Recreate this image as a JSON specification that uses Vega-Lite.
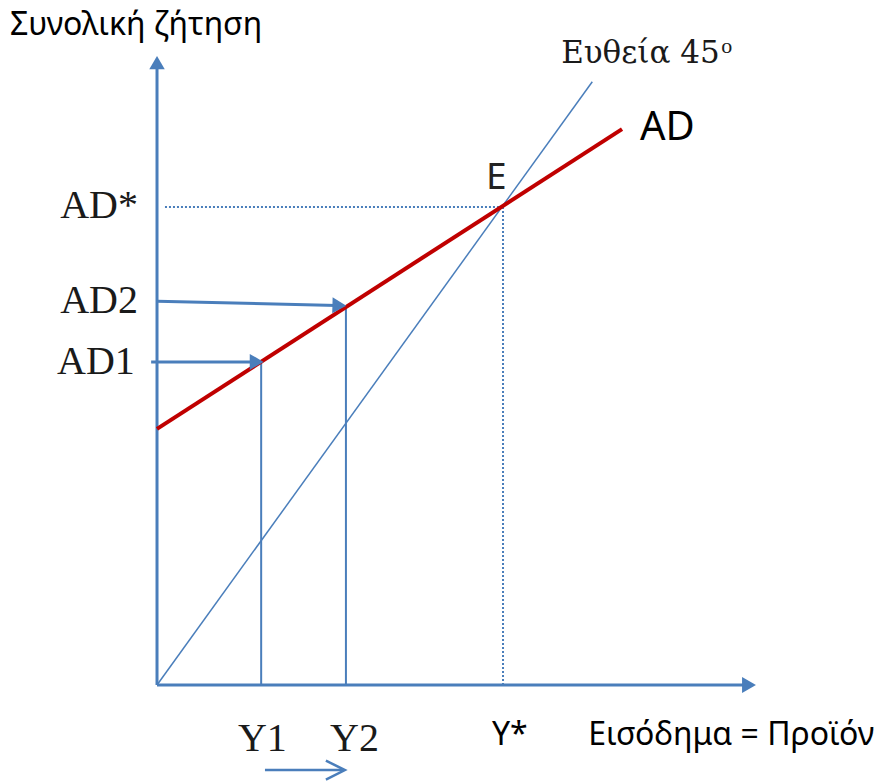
{
  "$schema": "https://vega.github.io/schema/vega-lite/v6.json",
  "width": 886,
  "height": 782,
  "autosize": "none",
  "padding": 0,
  "background": "white",
  "config": {"view": {"stroke": null}},
  "datasets": {
    "segs": [
      {"name": "yaxis", "x": 0, "y": 0, "x2": 0, "y2": 129.1},
      {"name": "xaxis", "x": 0, "y": 0, "x2": 169.4, "y2": 0},
      {"name": "g1", "x": 30.1, "y": 0, "x2": 30.1, "y2": 67.6},
      {"name": "g2", "x": 54.6, "y": 0, "x2": 54.6, "y2": 79.4},
      {"name": "a1", "x": -1.7, "y": 67.6, "x2": 27.5, "y2": 67.6},
      {"name": "a2", "x": 0, "y": 80.3, "x2": 52.0, "y2": 79.4},
      {"name": "ab", "x": 31.2, "y": -17.8, "x2": 54.0, "y2": -17.8},
      {"name": "d45", "x": 0, "y": 0, "x2": 125.8, "y2": 126.2},
      {"name": "dh", "x": 2.3, "y": 100, "x2": 100, "y2": 100},
      {"name": "dv", "x": 100, "y": 0, "x2": 100, "y2": 100},
      {"name": "AD", "x": 0, "y": 53.6, "x2": 134.4, "y2": 116.3}
    ],
    "heads": [
      {"name": "ytip", "x": 0, "y": 130.2},
      {"name": "xtip", "x": 171.1, "y": 0},
      {"name": "a1tip", "x": 28.8, "y": 67.6},
      {"name": "a2tip", "x": 52.7, "y": 79.4},
      {"name": "abtip", "x": 54.3, "y": -17.8}
    ],
    "labels": [
      {"name": "title", "label": "Συνολική ζήτηση", "x": -42.5, "y": 136.0},
      {"name": "line45", "label": "Ευθεία 45", "x": 116.8, "y": 130.1},
      {"name": "sup", "label": "ο", "x": 163.1, "y": 132.2},
      {"name": "ADlab", "label": "AD", "x": 139.6, "y": 114.0},
      {"name": "E", "label": "E", "x": 95.1, "y": 103.8},
      {"name": "ADstar", "label": "AD*", "x": -5.5, "y": 97.7},
      {"name": "AD2", "label": "AD2", "x": -5.5, "y": 77.8},
      {"name": "AD1", "label": "AD1", "x": -6.4, "y": 65.1},
      {"name": "Y1", "label": "Y1", "x": 23.4, "y": -13.8},
      {"name": "Y2", "label": "Y2", "x": 50.0, "y": -13.8},
      {"name": "Ystar", "label": "Y*", "x": 96.8, "y": -12.6},
      {"name": "xtitle", "label": "Εισόδημα = Προϊόν", "x": 124.6, "y": -12.6}
    ]
  },
  "layer": [
    {
      "data": {"name": "segs"},
      "transform": [{"filter": "datum.name === 'yaxis' || datum.name === 'xaxis'"}],
      "mark": {"type": "rule", "color": "#4A7EBB", "strokeWidth": 3},
      "encoding": {
        "x": {"field": "x", "type": "quantitative", "axis": null, "scale": {"domain": [-45.38, 210.69], "nice": false, "zero": false}},
        "y": {"field": "y", "type": "quantitative", "axis": null, "scale": {"domain": [-20.29, 143.31], "nice": false, "zero": false}},
        "x2": {"field": "x2"},
        "y2": {"field": "y2"}
      }
    },
    {
      "data": {"name": "segs"},
      "transform": [{"filter": "datum.name === 'g1' || datum.name === 'g2'"}],
      "mark": {"type": "rule", "color": "#4A7EBB", "strokeWidth": 2},
      "encoding": {
        "x": {"field": "x", "type": "quantitative", "axis": null},
        "y": {"field": "y", "type": "quantitative", "axis": null},
        "x2": {"field": "x2"},
        "y2": {"field": "y2"}
      }
    },
    {
      "data": {"name": "segs"},
      "transform": [{"filter": "datum.name === 'a1' || datum.name === 'a2'"}],
      "mark": {"type": "rule", "color": "#4A7EBB", "strokeWidth": 3},
      "encoding": {
        "x": {"field": "x", "type": "quantitative", "axis": null},
        "y": {"field": "y", "type": "quantitative", "axis": null},
        "x2": {"field": "x2"},
        "y2": {"field": "y2"}
      }
    },
    {
      "data": {"name": "segs"},
      "transform": [{"filter": "datum.name === 'ab'"}],
      "mark": {"type": "rule", "color": "#4A7EBB", "strokeWidth": 2.5},
      "encoding": {
        "x": {"field": "x", "type": "quantitative", "axis": null},
        "y": {"field": "y", "type": "quantitative", "axis": null},
        "x2": {"field": "x2"},
        "y2": {"field": "y2"}
      }
    },
    {
      "data": {"name": "segs"},
      "transform": [{"filter": "datum.name === 'd45'"}],
      "mark": {"type": "rule", "color": "#4A7EBB", "strokeWidth": 1.5},
      "encoding": {
        "x": {"field": "x", "type": "quantitative", "axis": null},
        "y": {"field": "y", "type": "quantitative", "axis": null},
        "x2": {"field": "x2"},
        "y2": {"field": "y2"}
      }
    },
    {
      "data": {"name": "segs"},
      "transform": [{"filter": "datum.name === 'dh' || datum.name === 'dv'"}],
      "mark": {"type": "rule", "color": "#4A7EBB", "strokeWidth": 2, "strokeDash": [2, 2]},
      "encoding": {
        "x": {"field": "x", "type": "quantitative", "axis": null},
        "y": {"field": "y", "type": "quantitative", "axis": null},
        "x2": {"field": "x2"},
        "y2": {"field": "y2"}
      }
    },
    {
      "data": {"name": "segs"},
      "transform": [{"filter": "datum.name === 'AD'"}],
      "mark": {"type": "rule", "color": "#C00000", "strokeWidth": 4},
      "encoding": {
        "x": {"field": "x", "type": "quantitative", "axis": null},
        "y": {"field": "y", "type": "quantitative", "axis": null},
        "x2": {"field": "x2"},
        "y2": {"field": "y2"}
      }
    },
    {
      "data": {"name": "heads"},
      "transform": [{"filter": "datum.name === 'ytip'"}],
      "mark": {"type": "point", "shape": "triangle-up", "filled": true, "color": "#4A7EBB", "opacity": 1, "size": 240, "strokeWidth": 0},
      "encoding": {
        "x": {"field": "x", "type": "quantitative", "axis": null},
        "y": {"field": "y", "type": "quantitative", "axis": null}
      }
    },
    {
      "data": {"name": "heads"},
      "transform": [{"filter": "datum.name === 'xtip' || datum.name === 'a1tip'"}],
      "mark": {"type": "point", "shape": "triangle-right", "filled": true, "color": "#4A7EBB", "opacity": 1, "size": 256, "strokeWidth": 0},
      "encoding": {
        "x": {"field": "x", "type": "quantitative", "axis": null},
        "y": {"field": "y", "type": "quantitative", "axis": null}
      }
    },
    {
      "data": {"name": "heads"},
      "transform": [{"filter": "datum.name === 'a2tip'"}],
      "mark": {"type": "point", "shape": "triangle-right", "filled": true, "color": "#4A7EBB", "opacity": 1, "size": 256, "strokeWidth": 0, "angle": 1.5},
      "encoding": {
        "x": {"field": "x", "type": "quantitative", "axis": null},
        "y": {"field": "y", "type": "quantitative", "axis": null}
      }
    },
    {
      "data": {"name": "heads"},
      "transform": [{"filter": "datum.name === 'abtip'"}],
      "mark": {"type": "point", "shape": "M -2 -1 L 0 0 L -2 1", "filled": false, "color": "#4A7EBB", "opacity": 1, "size": 361, "strokeWidth": 2.5},
      "encoding": {
        "x": {"field": "x", "type": "quantitative", "axis": null},
        "y": {"field": "y", "type": "quantitative", "axis": null}
      }
    },
    {
      "data": {"name": "labels"},
      "transform": [{"filter": "datum.name === 'title' || datum.name === 'xtitle' || datum.name === 'Ystar'"}],
      "mark": {"type": "text", "font": "Noto Sans", "fontSize": 32, "align": "left", "baseline": "alphabetic", "color": "#000000"},
      "encoding": {
        "x": {"field": "x", "type": "quantitative", "axis": null},
        "y": {"field": "y", "type": "quantitative", "axis": null},
        "text": {"field": "label"}
      }
    },
    {
      "data": {"name": "labels"},
      "transform": [{"filter": "datum.name === 'ADlab'"}],
      "mark": {"type": "text", "font": "Noto Sans", "fontSize": 40, "align": "left", "baseline": "alphabetic", "color": "#000000"},
      "encoding": {
        "x": {"field": "x", "type": "quantitative", "axis": null},
        "y": {"field": "y", "type": "quantitative", "axis": null},
        "text": {"field": "label"}
      }
    },
    {
      "data": {"name": "labels"},
      "transform": [{"filter": "datum.name === 'E'"}],
      "mark": {"type": "text", "font": "Noto Sans", "fontSize": 37, "align": "left", "baseline": "alphabetic", "color": "#222222"},
      "encoding": {
        "x": {"field": "x", "type": "quantitative", "axis": null},
        "y": {"field": "y", "type": "quantitative", "axis": null},
        "text": {"field": "label"}
      }
    },
    {
      "data": {"name": "labels"},
      "transform": [{"filter": "datum.name === 'ADstar' || datum.name === 'AD2' || datum.name === 'AD1'"}],
      "mark": {"type": "text", "font": "Liberation Serif", "fontSize": 40, "align": "right", "baseline": "alphabetic", "color": "#1a1a1a"},
      "encoding": {
        "x": {"field": "x", "type": "quantitative", "axis": null},
        "y": {"field": "y", "type": "quantitative", "axis": null},
        "text": {"field": "label"}
      }
    },
    {
      "data": {"name": "labels"},
      "transform": [{"filter": "datum.name === 'Y1' || datum.name === 'Y2'"}],
      "mark": {"type": "text", "font": "Liberation Serif", "fontSize": 40, "align": "left", "baseline": "alphabetic", "color": "#1a1a1a"},
      "encoding": {
        "x": {"field": "x", "type": "quantitative", "axis": null},
        "y": {"field": "y", "type": "quantitative", "axis": null},
        "text": {"field": "label"}
      }
    },
    {
      "data": {"name": "labels"},
      "transform": [{"filter": "datum.name === 'line45'"}],
      "mark": {"type": "text", "font": "DejaVu Serif", "fontSize": 31, "align": "left", "baseline": "alphabetic", "color": "#1a1a1a"},
      "encoding": {
        "x": {"field": "x", "type": "quantitative", "axis": null},
        "y": {"field": "y", "type": "quantitative", "axis": null},
        "text": {"field": "label"}
      }
    },
    {
      "data": {"name": "labels"},
      "transform": [{"filter": "datum.name === 'sup'"}],
      "mark": {"type": "text", "font": "Liberation Serif", "fontSize": 22, "align": "left", "baseline": "alphabetic", "color": "#1a1a1a"},
      "encoding": {
        "x": {"field": "x", "type": "quantitative", "axis": null},
        "y": {"field": "y", "type": "quantitative", "axis": null},
        "text": {"field": "label"}
      }
    }
  ]
}
